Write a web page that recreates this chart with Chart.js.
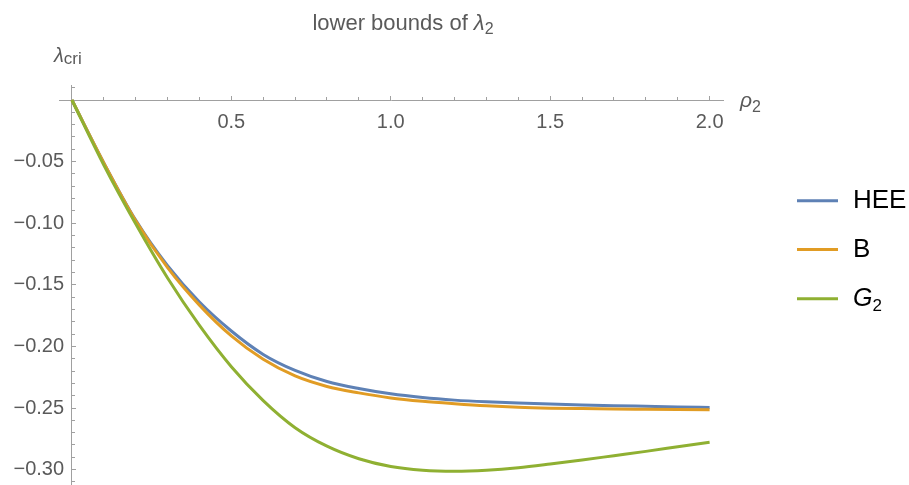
<!DOCTYPE html>
<html><head><meta charset="utf-8">
<script src="https://cdn.jsdelivr.net/npm/chart.js@4.4.1/dist/chart.umd.min.js"></script>
<style>html,body{margin:0;padding:0;background:#fff;} canvas{display:block;}</style>
</head><body>
<canvas id="c" width="909" height="485"></canvas>
<script>
// ---- data ----
const rho    = [0, 0.1, 0.2, 0.3, 0.4, 0.5, 0.6, 0.7, 0.8, 0.9, 1.0, 1.1, 1.2, 1.3, 1.4, 1.5, 1.6, 1.7, 1.8, 1.9, 2.0];
const hee    = [0, -0.051, -0.0975, -0.1345, -0.1640, -0.1875, -0.2065, -0.2195, -0.2285, -0.2342, -0.2385, -0.2415, -0.2436, -0.2450, -0.2460, -0.2468, -0.2475, -0.2481, -0.2486, -0.2491, -0.2495];
const bBound = [0, -0.051, -0.0980, -0.1360, -0.1665, -0.1915, -0.2105, -0.2240, -0.2325, -0.2377, -0.2418, -0.2445, -0.2465, -0.2482, -0.2494, -0.2501, -0.2505, -0.2508, -0.2510, -0.2512, -0.2514];
const g2     = [0, -0.0528, -0.1005, -0.1445, -0.1830, -0.2165, -0.2440, -0.2660, -0.2810, -0.2912, -0.2975, -0.3005, -0.3013, -0.3005, -0.2985, -0.2955, -0.2922, -0.2887, -0.2852, -0.2815, -0.2778];

const seriesLabels = ['HEE', 'B', 'G2'];
const seriesColors = ['#5E81B5', '#E19C24', '#8FB032'];

const xMajorTicks = [0.5, 1.0, 1.5, 2.0];
const xTickLabels = ['0.5', '1.0', '1.5', '2.0'];
const xMinorTicks = [0.1, 0.2, 0.3, 0.4, 0.6, 0.7, 0.8, 0.9, 1.1, 1.2, 1.3, 1.4, 1.6, 1.7, 1.8, 1.9];
const yMajorTicks = [-0.05, -0.10, -0.15, -0.20, -0.25, -0.30];
const yTickLabels = ['\u22120.05', '\u22120.10', '\u22120.15', '\u22120.20', '\u22120.25', '\u22120.30'];
const yMinorTicks = [0.01, -0.01, -0.02, -0.03, -0.04, -0.06, -0.07, -0.08, -0.09, -0.11, -0.12, -0.13, -0.14,
                     -0.16, -0.17, -0.18, -0.19, -0.21, -0.22, -0.23, -0.24, -0.26, -0.27, -0.28, -0.29, -0.31];

// ---- styling ----
const FONT = "'Liberation Sans', Arial, Helvetica, sans-serif";
const AXIS_COLOR = '#a0a0a0';
const LABEL_COLOR = '#5a5a5a';
const X_MIN = -0.0405, X_MAX = 2.042, Y_MIN = -0.3125, Y_MAX = 0.0122;

function labelFor(ticks, labels) {
  return (v) => {
    const k = ticks.findIndex(t => Math.abs(t - v) < 1e-9);
    return k >= 0 ? labels[k] : '';
  };
}
function zeroPad(scale) {
  scale.paddingLeft = 0; scale.paddingRight = 0; scale.paddingTop = 0; scale.paddingBottom = 0;
}

const seriesValues = [hee, bBound, g2];
const datasets = seriesValues.map((vals, i) => ({
  label: seriesLabels[i],
  data: rho.map((x, j) => ({x: x, y: vals[j]})),
  borderColor: seriesColors[i],
  backgroundColor: seriesColors[i],
  borderWidth: 3,
  pointRadius: 0,
  cubicInterpolationMode: 'monotone',
  fill: false,
  order: 3 - i
}));

function drawRuns(ctx, runs, x, y, align) {
  let total = 0;
  runs.forEach(r => { ctx.font = r.font; r.w = ctx.measureText(r.text).width; total += r.w + (r.dx || 0); });
  let cx = align === 'center' ? x - total / 2 : x;
  ctx.textAlign = 'left';
  ctx.textBaseline = 'alphabetic';
  runs.forEach(r => {
    cx += (r.dx || 0);
    ctx.font = r.font;
    ctx.fillText(r.text, cx, y + (r.dy || 0));
    cx += r.w;
  });
}

const textPlugin = {
  id: 'texts',
  afterDraw(chart) {
    const ctx = chart.ctx;
    const xs = chart.scales.x, ys = chart.scales.y;
    ctx.save();
    ctx.fillStyle = LABEL_COLOR;
    drawRuns(ctx, [
      {text: 'lower bounds of ', font: '22px ' + FONT},
      {text: '\u03BB', font: 'italic 22px ' + FONT},
      {text: '2', font: '16px ' + FONT, dy: 4}
    ], 403, 29.5, 'center');
    drawRuns(ctx, [
      {text: '\u03BB', font: 'italic 20px ' + FONT},
      {text: 'cri', font: '17px ' + FONT, dy: 2}
    ], 54, 62, 'left');
    const y0 = ys.getPixelForValue(0);
    drawRuns(ctx, [
      {text: '\u03C1', font: 'italic 21px ' + FONT},
      {text: '2', font: '16px ' + FONT, dy: 5}
    ], xs.right + 17, y0 + 7, 'left');
    const legendY = [200.7, 249.5, 298.8];
    chart.data.datasets.forEach((ds, i) => {
      const ly = legendY[i];
      ctx.strokeStyle = ds.borderColor;
      ctx.lineWidth = 3;
      ctx.beginPath();
      ctx.moveTo(797, ly);
      ctx.lineTo(838, ly);
      ctx.stroke();
      ctx.fillStyle = '#000';
      let runs;
      if (ds.label === 'G2') {
        runs = [{text: 'G', font: 'italic 25px ' + FONT}, {text: '2', font: '17px ' + FONT, dy: 5}];
      } else {
        runs = [{text: ds.label, font: '26px ' + FONT}];
      }
      drawRuns(ctx, runs, 853, ly + 7.5, 'left');
    });
    ctx.restore();
  }
};

const majorGrid = {display: true, drawOnChartArea: false, drawTicks: true, tickLength: -5, tickColor: AXIS_COLOR, tickWidth: 1};
const minorGrid = {display: true, drawOnChartArea: false, drawTicks: true, tickLength: -3, tickColor: AXIS_COLOR, tickWidth: 1};

new Chart(document.getElementById('c'), {
  type: 'line',
  data: {datasets: datasets},
  plugins: [textPlugin],
  options: {
    responsive: false,
    animation: false,
    devicePixelRatio: 1,
    layout: {padding: {left: 59, right: 186, top: 85, bottom: 0}},
    plugins: {legend: {display: false}, title: {display: false}, tooltip: {enabled: false}},
    scales: {
      x: {
        type: 'linear', axis: 'x', position: {y: 0}, bounds: 'data',
        min: X_MIN, max: X_MAX,
        afterBuildTicks: s => { s.ticks = xMajorTicks.map(v => ({value: v})); },
        afterFit: zeroPad,
        grid: majorGrid,
        border: {display: true, color: AXIS_COLOR, width: 1},
        ticks: {autoSkip: false, maxRotation: 0, padding: 15, color: LABEL_COLOR,
                font: {family: FONT, size: 20}, callback: labelFor(xMajorTicks, xTickLabels)}
      },
      xm: {
        type: 'linear', axis: 'x', position: {y: 0}, bounds: 'data',
        min: X_MIN, max: X_MAX,
        afterBuildTicks: s => { s.ticks = xMinorTicks.map(v => ({value: v})); },
        afterFit: zeroPad,
        grid: minorGrid,
        border: {display: false},
        ticks: {display: false, autoSkip: false}
      },
      y: {
        type: 'linear', axis: 'y', position: {x: 0}, bounds: 'data',
        min: Y_MIN, max: Y_MAX,
        afterBuildTicks: s => { s.ticks = yMajorTicks.map(v => ({value: v})); },
        afterFit: zeroPad,
        grid: majorGrid,
        border: {display: true, color: AXIS_COLOR, width: 1},
        ticks: {display: false, autoSkip: false}
      },
      yl: {
        type: 'linear', axis: 'y', position: {x: -0.0245}, bounds: 'data',
        min: Y_MIN, max: Y_MAX,
        afterBuildTicks: s => { s.ticks = yMajorTicks.map(v => ({value: v})); },
        afterFit: zeroPad,
        grid: {display: false, drawTicks: false},
        border: {display: false},
        ticks: {autoSkip: false, padding: 0, color: LABEL_COLOR,
                font: {family: FONT, size: 20}, callback: labelFor(yMajorTicks, yTickLabels)}
      },
      ym: {
        type: 'linear', axis: 'y', position: {x: 0}, bounds: 'data',
        min: Y_MIN, max: Y_MAX,
        afterBuildTicks: s => { s.ticks = yMinorTicks.map(v => ({value: v})); },
        afterFit: zeroPad,
        grid: minorGrid,
        border: {display: false},
        ticks: {display: false, autoSkip: false}
      }
    }
  }
});
</script>
</body></html>
